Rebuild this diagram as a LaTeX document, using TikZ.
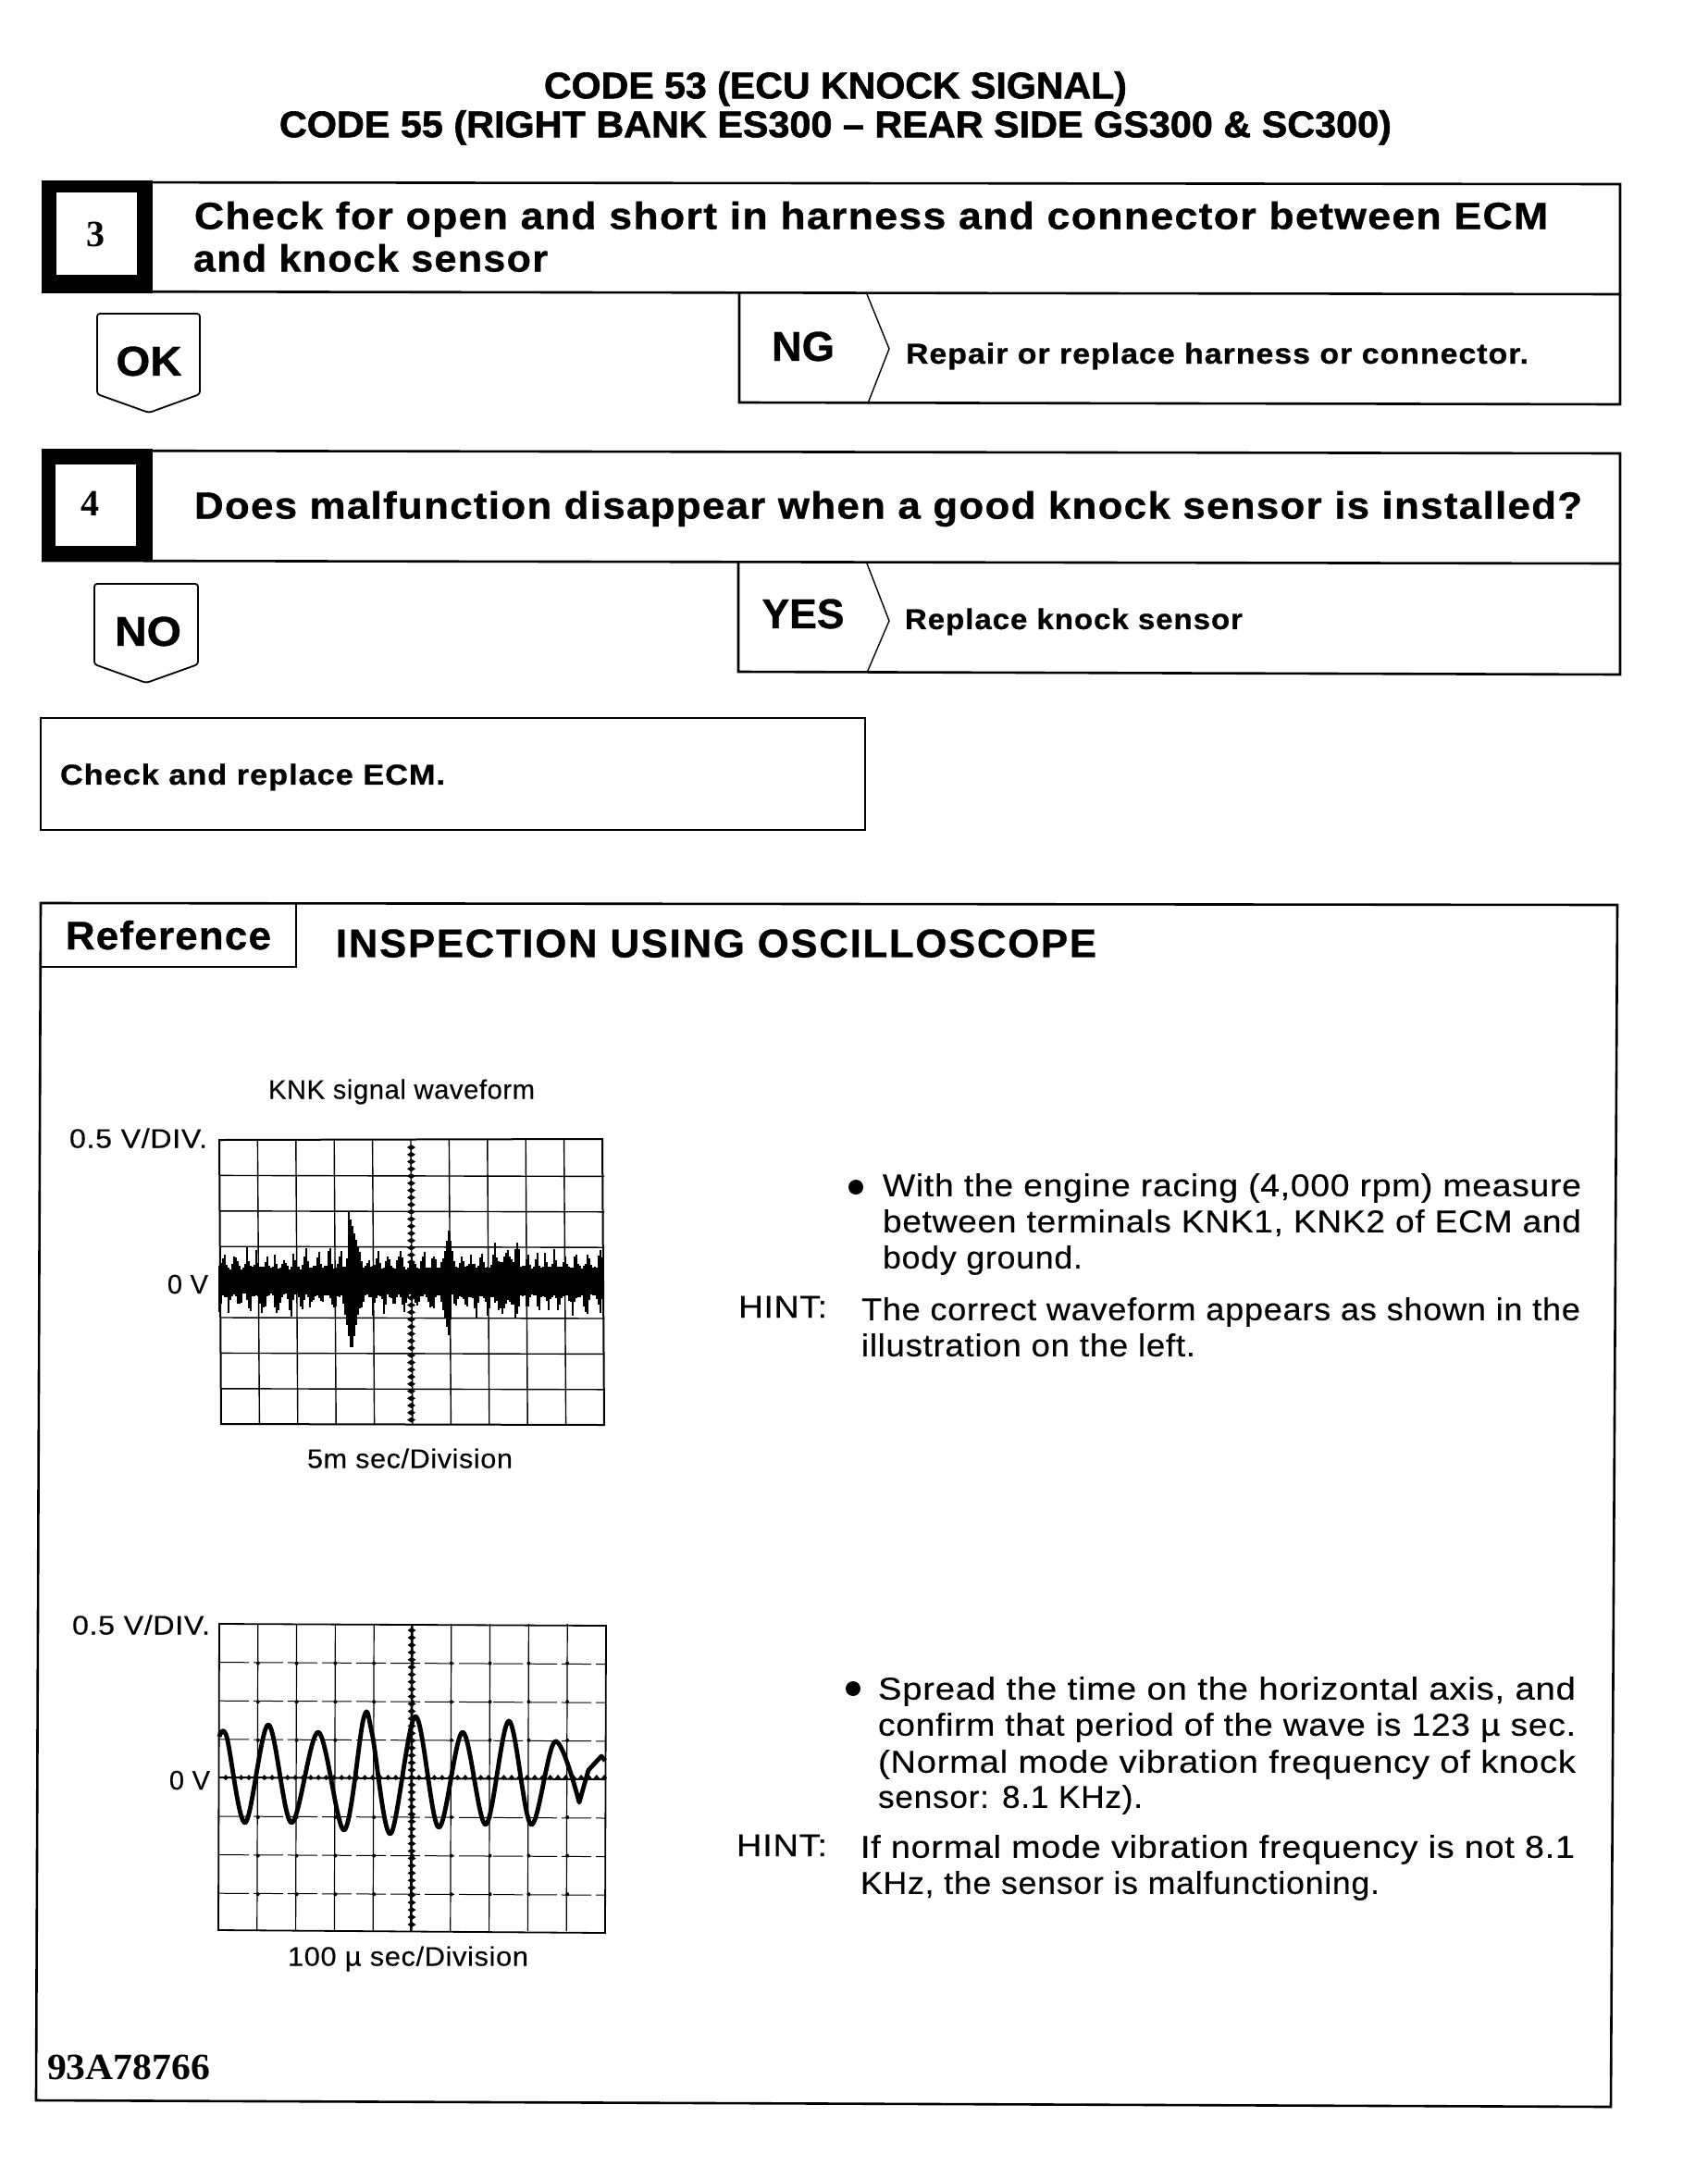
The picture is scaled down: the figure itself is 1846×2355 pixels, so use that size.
\documentclass[tikz,border=0pt]{standalone}
\usepackage{fontspec}
\usepackage{graphicx}
\setmainfont{Liberation Sans}
\newfontfamily\serifnum{Liberation Serif}
\newcommand\fitl[2]{\resizebox{\dimexpr#1pt/2\relax}{\height}{\vphantom{Ag}#2}}
\tikzset{
  x=0.5pt,y=-0.5pt,
  heavy/.style={line width=1.3pt,draw=black},
  med/.style={line width=0.9pt,draw=black},
  txt/.style={inner sep=0pt,outer sep=0pt,anchor=west,yshift=-1.5pt},
  ctxt/.style={inner sep=0pt,outer sep=0pt,anchor=center,yshift=-1.5pt},
  ttl/.style={ctxt,font=\fontsize{20}{20}\selectfont\bfseries\addfontfeature{FakeBold=1.4}},
  qst/.style={txt,font=\fontsize{20.5}{20}\selectfont\bfseries\addfontfeature{FakeBold=0.8,LetterSpace=3}},
  tag/.style={ctxt,font=\fontsize{22.5}{22}\selectfont\bfseries\addfontfeature{FakeBold=0.8}},
  act/.style={txt,font=\fontsize{15.5}{16}\selectfont\bfseries\addfontfeature{FakeBold=0.8,LetterSpace=3}},
  num/.style={inner sep=0pt,font=\fontsize{20}{20}\selectfont\bfseries\serifnum},
  body/.style={txt,font=\fontsize{17}{18}\selectfont\addfontfeature{FakeBold=0.3,LetterSpace=2}},
  smalltxt/.style={txt,font=\fontsize{14.5}{15}\selectfont\addfontfeature{FakeBold=0.3,LetterSpace=2}},
  bead/.style={fill=black,draw=none},
}
\begin{document}
\begin{tikzpicture}
\useasboundingbox (0,0) rectangle (1846,2355);
% title
\node[ttl] (t1) at (903,93) {\fitl{630}{CODE 53 (ECU KNOCK SIGNAL)}};
\node[ttl] (t2) at (903,135) {\fitl{1202}{CODE 55 (RIGHT BANK ES300 -- REAR SIDE GS300 \& SC300)}};
% box 3
\draw[heavy] (45,197) -- (1751,199) -- (1751,318) -- (45,315);
\fill (45,195) rectangle (165,317);
\fill[white] (61,208) rectangle (148,297);
\node[num] (n3) at (103,253) {3};
\node[qst] (q3a) at (210,234) {\fitl{1463}{Check for open and short in harness and connector between ECM}};
\node[qst] (q3b) at (209,280) {\fitl{383}{and knock sensor}};
% NG
\draw[heavy] (799,317) -- (799,435) -- (1751,437) -- (1751,318);
\draw[med,line width=0.7pt] (937,318) -- (961,377) -- (938,436);
\node[tag] (ng) at (868,376) {\fitl{68}{NG}};
\node[act] (ngt) at (979,382) {\fitl{673}{Repair or replace harness or connector.}};
% OK
\draw[med,rounded corners=1.5pt] (105,339) -- (216,339) -- (216,426) -- (161,446) -- (105,426) -- cycle;
\node[tag] (ok) at (161,392) {\fitl{71}{OK}};
% box 4
\draw[heavy] (45,487) -- (1751,490) -- (1751,609) -- (45,606);
\fill (45,485) rectangle (165,606);
\fill[white] (60,502) rectangle (147,590);
\node[num] (n4) at (97,544) {4};
\node[qst] (q4) at (210,547) {\fitl{1500}{Does malfunction disappear when a good knock sensor is installed?}};
% YES
\draw[heavy] (798,608) -- (798,726) -- (1751,729) -- (1751,609);
\draw[med,line width=0.7pt] (937,609) -- (961,671) -- (937,727);
\node[tag] (yes) at (868,665) {\fitl{89}{YES}};
\node[act] (yest) at (978,669) {\fitl{365}{Replace knock sensor}};
% NO
\draw[med,rounded corners=1.5pt] (102,631) -- (214,631) -- (214,718) -- (158,738) -- (102,718) -- cycle;
\node[tag] (no) at (160,684) {\fitl{72}{NO}};
% check
\draw[heavy] (44,776) rectangle (935,897);
\node[act] (chk) at (65,837) {\fitl{416}{Check and replace ECM.}};
% reference panel
\draw[heavy] (44,976) -- (1748,978) -- (1741,2277) -- (39,2270) -- cycle;
\draw[med] (320,976) -- (320,1045) -- (43,1045);
\node[tag,font=\fontsize{21.5}{22}\selectfont\bfseries\addfontfeature{FakeBold=0.8,LetterSpace=3}] (ref) at (182,1012) {\fitl{222}{Reference}};
\node[txt,font=\fontsize{21.5}{22}\selectfont\bfseries\addfontfeature{FakeBold=0.8,LetterSpace=4}] (insp) at (363,1021) {\fitl{822}{INSPECTION USING OSCILLOSCOPE}};
\node[smalltxt] (knk) at (290,1177) {\fitl{288}{KNK signal waveform}};
\node[smalltxt] (a1) at (75,1230) {\fitl{149}{0.5 V/DIV.}};
\node[smalltxt,anchor=east] (z1) at (225,1385) {0 V};
\node[smalltxt] (c1) at (332,1576) {\fitl{222}{5m sec/Division}};
\node[smalltxt] (a2) at (78,1756) {\fitl{149}{0.5 V/DIV.}};
\node[smalltxt,anchor=east] (z2) at (227,1921) {0 V};
\node[smalltxt] (c2) at (311,2114) {\fitl{260}{100 µ sec/Division}};
% scope 1 grid
\foreach \i in {1,...,9}
  \draw[line width=0.7pt] ({237+41.4*\i},1232) -- ({239+41.4*\i},1540);
\foreach \j in {1,2,3,5,6,7}
  \draw[line width=0.7pt] (238,{1232+38.4*\j}) -- (653,{1233+38.4*\j});
\draw[line width=1pt] (237,1232) -- (651,1231) -- (653,1540) -- (239,1539) -- cycle;
\foreach \k in {0,...,38}
  \fill[bead] (444.5,{1240+7.75*\k-3}) -- (449,{1240+7.75*\k}) -- (444.5,{1240+7.75*\k+3}) -- (440,{1240+7.75*\k}) -- cycle;
% noise trace
\pgfmathsetseed{53}
\foreach \xx in {237,239,...,652}{
  \pgfmathsetmacro\ua{13+4*rnd+(6+17*rnd)*abs(sin(\xx*16+40*sin(\xx*3.7)))^4}
  \pgfmathsetmacro\da{13+4*rnd+(6+19*rnd)*abs(sin(\xx*14+50+40*sin(\xx*4.3)))^4}
  \pgfmathsetmacro\uA{\xx<377?max(0,1-(377-\xx)/3):max(0,1-(\xx-377)/20)}
  \pgfmathsetmacro\dA{max(0,1-abs(\xx-380)/13)}
  \pgfmathsetmacro\uB{max(0,1-abs(\xx-485)/10)}
  \pgfmathsetmacro\dB{\xx<486?max(0,1-(486-\xx)/14):max(0,1-(\xx-486)/3)}
  \pgfmathsetmacro\tC{max(0,1-abs(\xx-558)/3)}
  \pgfmathsetmacro\cl{(\xx>533&&\xx<563)?7:0}
  \pgfmathsetmacro\up{max(\ua+\cl,max(75*\uA,max(55*\uB,53*\tC)))}
  \pgfmathsetmacro\dn{max(\da+\cl,max(77*\dA,62*\dB))}
  \draw[line width=1.05pt] (\xx,{1385-\up}) -- (\xx,{1385+\dn});
}
% scope 2 grid
\foreach \i in {1,...,9}
  \draw[line width=0.6pt] ({237+41.8*\i},1755) -- ({236+41.8*\i},2087);
\foreach \j in {1,2,3,5,6,7}{
  \draw[line width=0.5pt,dash pattern=on 16pt off 2.5pt] (237,{1755+41.6*\j}) -- (655,{1757+41.6*\j});
  \foreach \i in {1,...,9}
    \fill[bead] ({237+41.8*\i},{1756+41.6*\j}) circle (2);
}
\draw[line width=0.9pt] (237,1755) -- (655,1757) -- (654,2089) -- (236,2086) -- cycle;
\draw[line width=1pt] (237,1921) -- (655,1923);
\draw[line width=1pt] (445,1757) -- (444,2087);
\foreach \k in {0,...,40}
  \fill[bead] (445,{1762+7.95*\k-3}) -- (449.5,{1762+7.95*\k}) -- (445,{1762+7.95*\k+3}) -- (440.5,{1762+7.95*\k}) -- cycle;
\foreach \k in {0,...,49}
  \fill[bead] ({244+8.35*\k},{1921-3}) -- ({244+8.35*\k+3},1921.5) -- ({244+8.35*\k},{1921+3}) -- ({244+8.35*\k-3},1921.5) -- cycle;
% scope 2 trace
\draw[line width=2.4pt,line join=round] plot[smooth,tension=0.55] coordinates {
 (237,1877) (245,1877) (265,1970) (290,1864) (315,1970) (344,1872) (372,1978)
 (393,1857) (402,1873) (422,1982) (449,1855) (474,1975) (500,1872) (525,1972)
 (550,1860) (574,1972) (600,1882) (626,1948)} -- (636,1913) -- (650,1898) -- (654,1903);
% paragraph 1
\fill (925,1283) circle (8);
\node[body] (p1a) at (954,1281) {\fitl{755}{With the engine racing (4,000 rpm) measure}};
\node[body] (p1b) at (954,1320) {\fitl{755}{between terminals KNK1, KNK2 of ECM and}};
\node[body] (p1c) at (954,1359) {\fitl{216}{body ground.}};
\node[body] (h1) at (798,1413) {\fitl{96}{HINT:}};
\node[body] (h1a) at (931,1415) {\fitl{777}{The correct waveform appears as shown in the}};
\node[body] (h1b) at (931,1454) {\fitl{361}{illustration on the left.}};
% paragraph 2
\fill (922,1825) circle (8);
\node[body] (p2a) at (949,1825) {\fitl{754}{Spread the time on the horizontal axis, and}};
\node[body] (p2b) at (949,1864) {\fitl{754}{confirm that period of the wave is 123 µ sec.}};
\node[body] (p2c) at (949,1904) {\fitl{754}{(Normal mode vibration frequency of knock}};
\node[body] (p2d) at (949,1942) {\fitl{286}{sensor: 8.1 KHz).}};
\node[body] (h2) at (796,1995) {\fitl{98}{HINT:}};
\node[body] (h2a) at (930,1996) {\fitl{772}{If normal mode vibration frequency is not 8.1}};
\node[body] (h2b) at (930,2035) {\fitl{561}{KHz, the sensor is malfunctioning.}};
% code
\node[txt,font=\fontsize{20}{20}\selectfont\bfseries\serifnum] (code) at (51,2236) {\fitl{176}{93A78766}};
\end{tikzpicture}
\end{document}
